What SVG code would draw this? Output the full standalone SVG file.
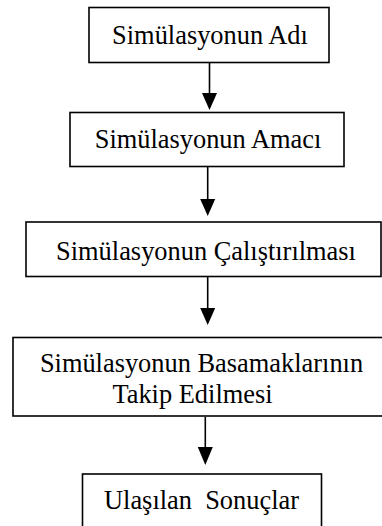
<svg xmlns="http://www.w3.org/2000/svg" width="382" height="526" viewBox="0 0 382 526">
  <style>
    .box { fill: #fff; stroke: #000; stroke-width: 1.6; }
    .lbl { font-size: 26.4px; fill: #000; text-anchor: middle; white-space: pre; }
    .edge { stroke: #000; stroke-width: 1.6; fill: none; }
    .head { fill: #000; }
  </style>
  <rect width="382" height="526" fill="#fff"/>

  <g id="connectors">
    <line class="edge" x1="209.5" y1="62" x2="209.5" y2="94"/>
    <polygon class="head" points="202,93 217,93 209.5,110"/>
    <line class="edge" x1="207.7" y1="167" x2="207.7" y2="200"/>
    <polygon class="head" points="200.2,199 215.2,199 207.7,216"/>
    <line class="edge" x1="207.7" y1="277" x2="207.7" y2="309"/>
    <polygon class="head" points="200.2,308 215.2,308 207.7,325"/>
    <line class="edge" x1="205.3" y1="417" x2="205.3" y2="448"/>
    <polygon class="head" points="197.8,447 212.8,447 205.3,465"/>
  </g>

  <g font-family="Liberation Serif, Times New Roman, serif">
    <g id="node-adi">
      <rect class="box" x="89" y="7.5" width="240" height="55"/>
      <text class="lbl" x="210" y="44">Simülasyonun Adı</text>
    </g>

    <g id="node-amaci">
      <rect class="box" x="70" y="112.5" width="274" height="54"/>
      <text class="lbl" x="208" y="148">Simülasyonun Amacı</text>
    </g>

    <g id="node-calistirilmasi">
      <rect class="box" x="26" y="222" width="355" height="54.5"/>
      <text class="lbl" x="206" y="260">Simülasyonun Çalıştırılması</text>
    </g>

    <g id="node-basamaklar">
      <rect class="box" x="13" y="337.5" width="380" height="78.5"/>
      <text class="lbl" x="201.5" y="372">Simülasyonun Basamaklarının</text>
      <text class="lbl" x="192.5" y="403">Takip Edilmesi</text>
    </g>

    <g id="node-sonuclar">
      <rect class="box" x="82.5" y="474" width="239" height="60"/>
      <text class="lbl" x="201.5" y="509">Ulaşılan  Sonuçlar</text>
    </g>
  </g>
</svg>
